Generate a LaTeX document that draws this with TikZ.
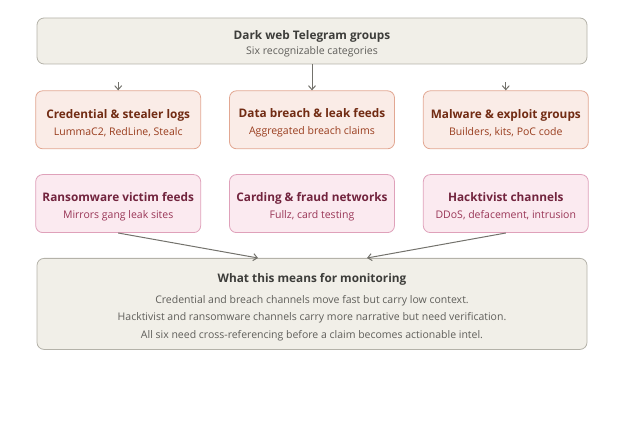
\documentclass[tikz,border=0pt]{standalone}
\usepackage{fontspec}
\setmainfont{Open Sans}
\IfFontExistsTF{Open Sans SemiBold}{\newfontfamily\semib{Open Sans SemiBold}}{\let\semib\bfseries}
\usetikzlibrary{positioning,arrows.meta,calc}
\definecolor{bgsand}{HTML}{F1EFE8}
\definecolor{lnsand}{HTML}{B4B2A9}
\definecolor{txsand}{HTML}{3D3D3A}
\definecolor{sbsand}{HTML}{5F5E5A}
\definecolor{bgpeach}{HTML}{FAECE7}
\definecolor{lnpeach}{HTML}{E2A792}
\definecolor{txpeach}{HTML}{712B13}
\definecolor{sbpeach}{HTML}{993C1D}
\definecolor{bgpink}{HTML}{FBEAF0}
\definecolor{lnpink}{HTML}{DFA1BA}
\definecolor{txpink}{HTML}{72243E}
\definecolor{sbpink}{HTML}{993556}
\definecolor{arrgrey}{HTML}{73726C}
\newcommand{\hd}[1]{{\fontsize{11.8}{14}\selectfont\semib\rule{0pt}{15pt}#1}}
\newcommand{\subln}[1]{{\fontsize{10.5}{13}\selectfont\color{subc}#1}}
\tikzset{
  card/.style   ={rectangle, rounded corners=7pt, line width=0.8pt, align=center,
                  minimum width=165pt, minimum height=58pt, inner sep=2pt},
  sandc/.style  ={card, fill=bgsand, draw=lnsand, text=txsand,
                  execute at begin node={\colorlet{subc}{sbsand}}},
  peachc/.style ={card, fill=bgpeach, draw=lnpeach, text=txpeach,
                  execute at begin node={\colorlet{subc}{sbpeach}}},
  pinkc/.style  ={card, fill=bgpink, draw=lnpink, text=txpink,
                  execute at begin node={\colorlet{subc}{sbpink}}},
  arr/.style    ={-{Straight Barb[length=4pt,width=7pt]}, line width=1pt, draw=arrgrey}
}
\begin{document}
\begin{tikzpicture}[x=1pt, y=-1pt, node distance=25pt and 28pt]
  \useasboundingbox (0,0) rectangle (624,422);
  \node[sandc,minimum width=550pt,minimum height=46pt] (top) at (312,41)
    {\hd{Dark web Telegram groups}\\[3.5pt]\subln{Six recognizable categories}};

  \node[peachc,below=26pt of top] (leak) {\hd{Data breach \& leak feeds}\\[5pt]\subln{Aggregated breach claims}};
  \node[peachc,left=of leak] (cred) {\hd{Credential \& stealer logs}\\[5pt]\subln{LummaC2, RedLine, Stealc}};
  \node[peachc,right=of leak] (malw) {\hd{Malware \& exploit groups}\\[5pt]\subln{Builders, kits, PoC code}};

  \node[pinkc,below=of cred] (rans) {\hd{Ransomware victim feeds}\\[5pt]\subln{Mirrors gang leak sites}};
  \node[pinkc,below=of leak] (card) {\hd{Carding \& fraud networks}\\[5pt]\subln{Fullz, card testing}};
  \node[pinkc,below=of malw] (hack) {\hd{Hacktivist channels}\\[5pt]\subln{DDoS, defacement, intrusion}};

  \node[sandc,below=of card,minimum width=550pt,minimum height=91pt] (mon)
    {\hd{What this means for monitoring}\\[9pt]
     \subln{Credential and breach channels move fast but carry low context.}\\[5.5pt]
     \subln{Hacktivist and ransomware channels carry more narrative but need verification.}\\[5.5pt]
     \subln{All six need cross-referencing before a claim becomes actionable intel.}};

  \coordinate (stubl) at ($(cred.north)+(0,-8)$);
  \coordinate (stubr) at ($(malw.north)+(0,-8)$);
  \draw[arr] (stubl) -- (cred.north);
  \draw[arr] (top.south) -- (leak.north);
  \draw[arr] (stubr) -- (malw.north);
  \draw[arr] (rans.south) -- ([xshift=-54pt]mon.north);
  \draw[arr] (hack.south) -- ([xshift=55pt]mon.north);
\end{tikzpicture}
\end{document}
